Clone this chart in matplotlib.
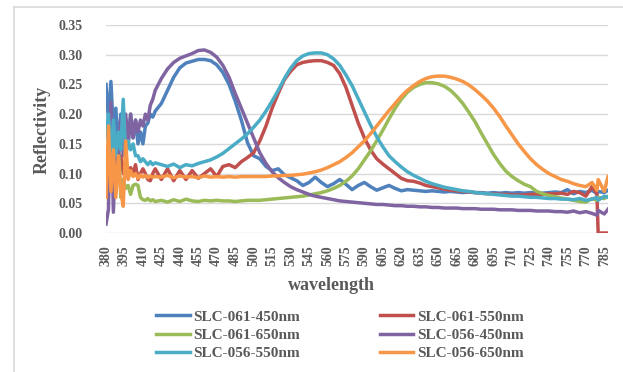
import matplotlib
matplotlib.use("Agg")
import matplotlib.pyplot as plt
from matplotlib.lines import Line2D

# wavelength samples (nm): dense in the noisy start, then every 5 nm
wavelength = list(range(380, 421, 2)) + list(range(425, 776, 5)) + [779, 780, 785, 788]

slc061_450 = [0.25, 0.19, 0.255, 0.17, 0.21, 0.14, 0.20, 0.16, 0.19, 0.15, 0.20,
              0.16, 0.19, 0.15, 0.17, 0.15, 0.18, 0.185, 0.20, 0.195, 0.205,
              0.218, 0.24, 0.262, 0.278, 0.286, 0.289, 0.292, 0.292, 0.29, 0.283,
              0.27, 0.25, 0.222, 0.19, 0.152, 0.13, 0.125, 0.112, 0.105, 0.108,
              0.098, 0.093, 0.088, 0.08, 0.085, 0.094, 0.085, 0.078, 0.083, 0.09,
              0.082, 0.073, 0.08, 0.085, 0.078, 0.072, 0.076, 0.08, 0.075, 0.071,
              0.073, 0.072, 0.071, 0.07, 0.071, 0.07, 0.069, 0.07, 0.069, 0.068,
              0.069, 0.068, 0.068, 0.067, 0.068, 0.067, 0.068, 0.067, 0.068, 0.067,
              0.068, 0.068, 0.067, 0.068, 0.069, 0.068, 0.073, 0.066, 0.07, 0.068,
              0.072,
              0.066, 0.07, 0.068, 0.072]

slc061_550 = [0.14, 0.12, 0.16, 0.10, 0.125, 0.09, 0.13, 0.10, 0.12, 0.095, 0.11,
              0.10, 0.115, 0.09, 0.10, 0.108, 0.10, 0.09, 0.088, 0.10, 0.108,
              0.09, 0.108, 0.088, 0.105, 0.09, 0.105, 0.092, 0.1, 0.108, 0.095,
              0.112, 0.115, 0.11, 0.12, 0.127, 0.135, 0.155, 0.18, 0.21, 0.235,
              0.258, 0.272, 0.283, 0.287, 0.289, 0.29, 0.29, 0.287, 0.282, 0.268,
              0.245, 0.215, 0.185, 0.16, 0.14, 0.125, 0.116, 0.108, 0.1, 0.092,
              0.088, 0.087, 0.084, 0.08, 0.078, 0.076, 0.074, 0.072, 0.071, 0.07,
              0.069, 0.068, 0.067, 0.066, 0.066, 0.065, 0.065, 0.064, 0.064, 0.064,
              0.065, 0.065, 0.065, 0.066, 0.066, 0.067, 0.065, 0.07, 0.068, 0.062,
              0.078,
              0.066, 0.0, 0.0, 0.0]

slc061_650 = [0.10, 0.13, 0.08, 0.15, 0.09, 0.16, 0.06, 0.09, 0.075, 0.08, 0.065,
              0.08, 0.082, 0.08, 0.06, 0.056, 0.055, 0.058, 0.054, 0.056, 0.053,
              0.055, 0.052, 0.056, 0.053, 0.057, 0.054, 0.053, 0.055, 0.054, 0.055,
              0.054, 0.054, 0.053, 0.054, 0.055, 0.055, 0.055, 0.056, 0.057, 0.058,
              0.059, 0.06, 0.061, 0.062, 0.064, 0.066, 0.068, 0.071, 0.075, 0.08,
              0.087, 0.096, 0.108, 0.123, 0.138, 0.155, 0.173, 0.192, 0.21, 0.225,
              0.237, 0.245, 0.25, 0.253, 0.253, 0.251, 0.247, 0.24, 0.23, 0.218,
              0.203, 0.187, 0.168, 0.15, 0.132, 0.117, 0.104, 0.095, 0.088, 0.082,
              0.078, 0.07, 0.066, 0.063, 0.061, 0.059, 0.057, 0.055, 0.053, 0.052,
              0.058,
              0.055, 0.06, 0.058, 0.062]

slc056_450 = [0.015, 0.04, 0.22, 0.035, 0.16, 0.12, 0.19, 0.13, 0.20, 0.15, 0.20,
              0.16, 0.19, 0.17, 0.19, 0.18, 0.20, 0.19, 0.215, 0.225, 0.24,
              0.26, 0.276, 0.287, 0.294, 0.298, 0.302, 0.307, 0.308, 0.304, 0.296,
              0.282, 0.262, 0.235, 0.21, 0.185, 0.16, 0.135, 0.117, 0.103, 0.093,
              0.085, 0.078, 0.073, 0.069, 0.065, 0.062, 0.06, 0.058, 0.056, 0.054,
              0.053, 0.052, 0.051, 0.05, 0.049, 0.048, 0.048, 0.047, 0.046, 0.046,
              0.045, 0.045, 0.044, 0.044, 0.043, 0.043, 0.042, 0.042, 0.042, 0.041,
              0.041, 0.041, 0.04, 0.04, 0.04, 0.039, 0.039, 0.039, 0.038, 0.038,
              0.038, 0.037, 0.037, 0.037, 0.036, 0.036, 0.035, 0.037, 0.034, 0.036,
              0.033,
              0.03, 0.038, 0.032, 0.04]

slc056_550 = [0.16, 0.20, 0.12, 0.19, 0.13, 0.17, 0.14, 0.225, 0.13, 0.155, 0.14,
              0.15, 0.13, 0.13, 0.12, 0.125, 0.12, 0.115, 0.12, 0.115, 0.118,
              0.115, 0.112, 0.116, 0.11, 0.115, 0.113, 0.117, 0.12, 0.123, 0.128,
              0.134, 0.142, 0.15, 0.158, 0.167, 0.178, 0.19, 0.205, 0.222, 0.24,
              0.26, 0.277, 0.29, 0.298, 0.302, 0.303, 0.303, 0.3, 0.293, 0.282,
              0.266, 0.248, 0.226, 0.204, 0.182, 0.162, 0.145, 0.13, 0.12, 0.111,
              0.103, 0.097, 0.092, 0.087, 0.083, 0.08, 0.077, 0.075, 0.073, 0.071,
              0.07, 0.068, 0.067, 0.066, 0.065, 0.064, 0.063, 0.062, 0.062, 0.061,
              0.06, 0.06, 0.059, 0.058, 0.058, 0.057, 0.057, 0.056, 0.058, 0.055,
              0.057,
              0.06, 0.055, 0.062, 0.06]

slc056_650 = [0.06, 0.18, 0.07, 0.14, 0.06, 0.13, 0.07, 0.045, 0.155, 0.09, 0.105,
              0.095, 0.10, 0.092, 0.098, 0.094, 0.097, 0.093, 0.096, 0.094, 0.095,
              0.094, 0.097, 0.093, 0.096, 0.094, 0.095, 0.093, 0.096, 0.094, 0.095,
              0.094, 0.095, 0.094, 0.095, 0.095, 0.095, 0.095, 0.095, 0.096, 0.096,
              0.097, 0.097, 0.098, 0.099, 0.101, 0.103, 0.106, 0.11, 0.115, 0.12,
              0.127, 0.135, 0.145, 0.155, 0.167, 0.18, 0.193, 0.206, 0.218, 0.23,
              0.24, 0.248, 0.255, 0.26, 0.263, 0.264, 0.264, 0.262, 0.259, 0.255,
              0.249, 0.241, 0.232, 0.222, 0.21, 0.196, 0.18, 0.165, 0.15, 0.137,
              0.125, 0.115, 0.107, 0.1, 0.095, 0.09, 0.087, 0.083, 0.08, 0.078,
              0.085,
              0.072, 0.09, 0.07, 0.095]

series = [
    ("SLC-061-450nm", slc061_450, "#4F81BD"),
    ("SLC-061-550nm", slc061_550, "#C0504D"),
    ("SLC-061-650nm", slc061_650, "#9BBB59"),
    ("SLC-056-450nm", slc056_450, "#8064A2"),
    ("SLC-056-550nm", slc056_550, "#4BACC6"),
    ("SLC-056-650nm", slc056_650, "#F79646"),
]

tick_labels = [str(w) for w in range(380, 786, 15)]
y_ticks = [0.0, 0.05, 0.10, 0.15, 0.20, 0.25, 0.30, 0.35]

text_color = "#595959"
grid_color = "#D9D9D9"
font = "Liberation Serif"

fig = plt.figure(figsize=(6.23, 3.72), dpi=100)
W, H = 623.0, 372.0
ax = fig.add_axes([106 / W, 1 - 233 / H, (608 - 106) / W, (233 - 25) / H])

lines = {}
for name, vals, col in series:
    ln, = ax.plot(wavelength, vals, color=col, lw=2.5, label=name,
                  solid_joinstyle="round", zorder=3)
    lines[name] = ln

ax.set_xlim(380, 788)
ax.set_ylim(0, 0.35)
ax.set_yticks(y_ticks)
ax.set_yticklabels(["%.2f" % v for v in y_ticks])
ax.set_xticks(range(380, 786, 15))
ax.set_xticklabels(tick_labels, rotation=90)
for lab in ax.get_xticklabels() + ax.get_yticklabels():
    lab.set_fontfamily(font)
    lab.set_fontweight("bold")
    lab.set_color(text_color)
    lab.set_fontsize(10)
ax.tick_params(axis="both", length=0)
ax.tick_params(axis="y", pad=17)
ax.tick_params(axis="x", pad=9)
ax.grid(axis="y", color=grid_color, lw=1.0, zorder=0)
for s in ax.spines.values():
    s.set_visible(False)
ax.set_axisbelow(True)

fig.text(42 / W, 1 - 130 / H, "Reflectivity", rotation=90, ha="center",
         va="center", fontfamily=font, fontweight="bold", fontsize=13,
         color=text_color)
fig.text(331 / W, 1 - 286 / H, "wavelength", ha="center", va="center",
         fontfamily=font, fontweight="bold", fontsize=13, color=text_color)

order = ["SLC-061-450nm", "SLC-061-650nm", "SLC-056-550nm",
         "SLC-061-550nm", "SLC-056-450nm", "SLC-056-650nm"]
leg = fig.legend([lines[n] for n in order], order, ncol=2,
                 loc="upper left", bbox_to_anchor=(150 / W, 1 - 304 / H),
                 frameon=False, handlelength=2.2, handletextpad=0.25,
                 columnspacing=5.2, labelspacing=0.3, borderaxespad=0,
                 prop={"family": font, "weight": "bold", "size": 11})
for t in leg.get_texts():
    t.set_color(text_color)

# outer chart border
fig.add_artist(Line2D([14 / W, 14 / W], [0, 1 - 7 / H], color=grid_color,
                      lw=1.2, transform=fig.transFigure))
fig.add_artist(Line2D([14 / W, 1], [1 - 7 / H, 1 - 7 / H], color=grid_color,
                      lw=1.2, transform=fig.transFigure))

fig.savefig("out.png", dpi=100)
